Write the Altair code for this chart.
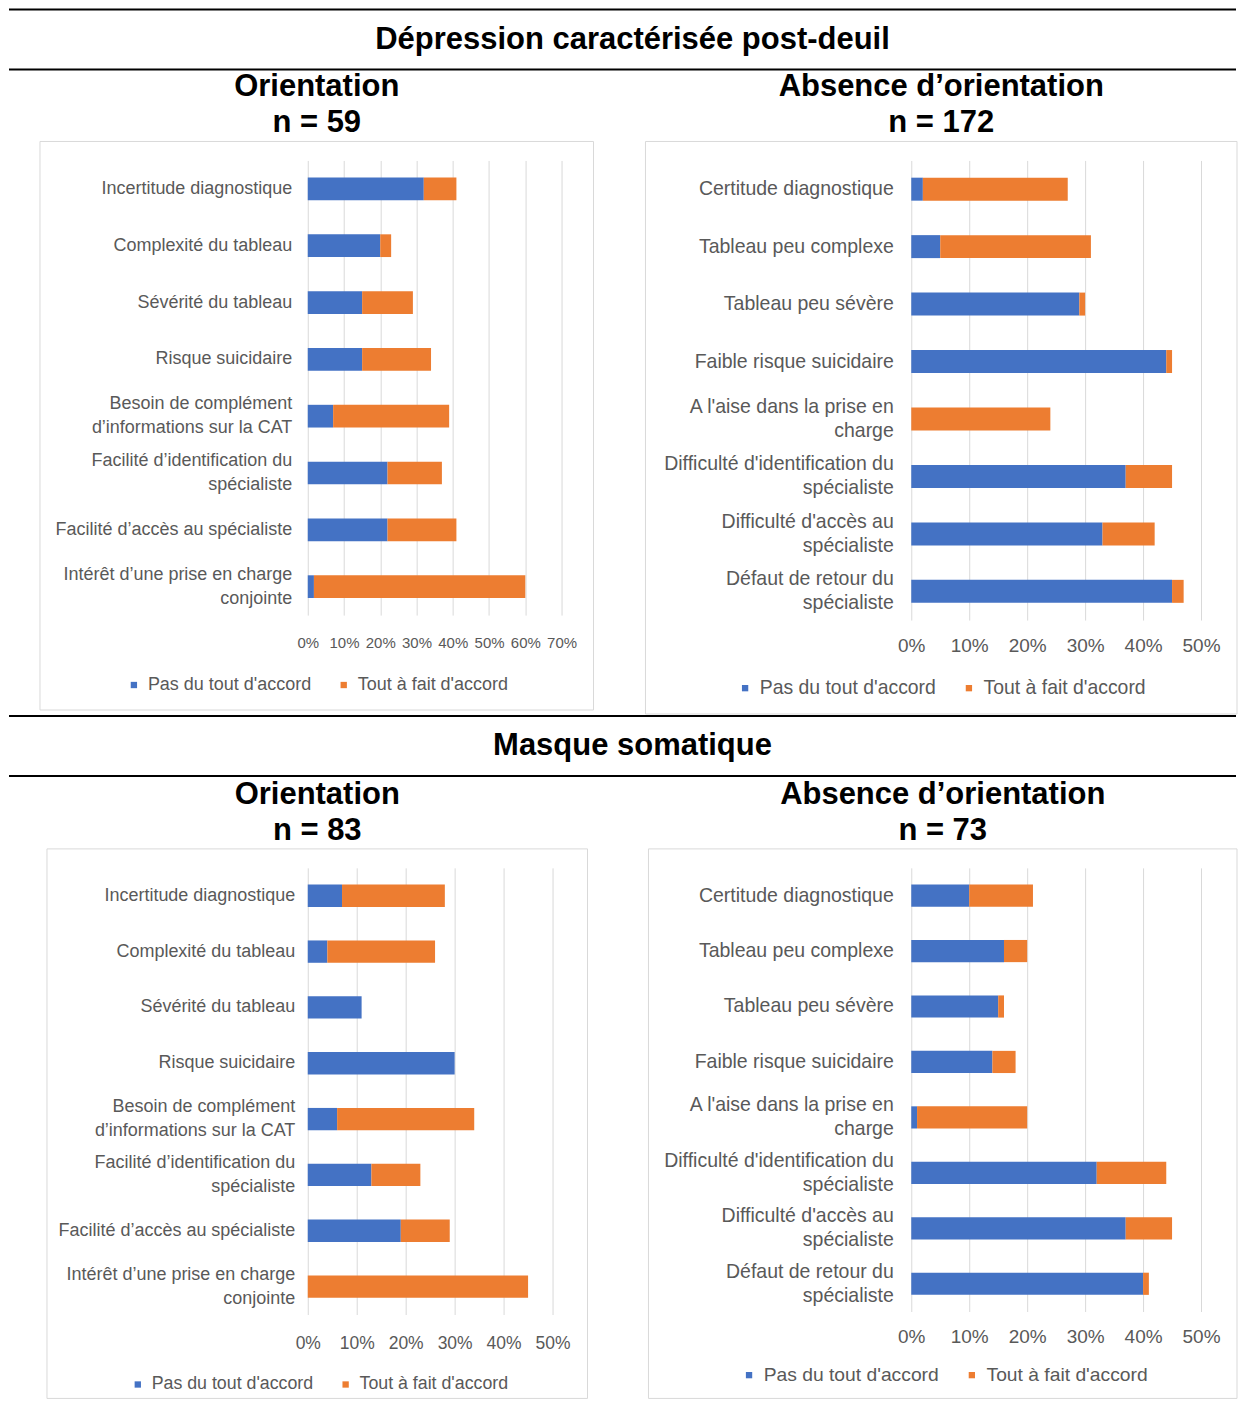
import altair as alt
import pandas as pd

FONT = "Liberation Sans"
GRAY = "#595959"
GRID = "#D9D9D9"
BOXC = "#D9D9D9"
SERIES = ["Pas du tout d'accord", "Tout à fait d'accord"]
COLORS = ["#4472C4", "#ED7D31"]

TITLE_DEP = "Dépression caractérisée post-deuil"
TITLE_SOM = "Masque somatique"

CATS_ORIENT = [
    "Incertitude diagnostique",
    "Complexité du tableau",
    "Sévérité du tableau",
    "Risque suicidaire",
    "Besoin de complément|d’informations sur la CAT",
    "Facilité d’identification du|spécialiste",
    "Facilité d’accès au spécialiste",
    "Intérêt d’une prise en charge|conjointe",
]
CATS_ABSENCE = [
    "Certitude diagnostique",
    "Tableau peu complexe",
    "Tableau peu sévère",
    "Faible risque suicidaire",
    "A l'aise dans la prise en|charge",
    "Difficulté d'identification du|spécialiste",
    "Difficulté d'accès au|spécialiste",
    "Défaut de retour du|spécialiste",
]

SUB_DEP_ORIENT = ["Orientation", "n = 59"]
SUB_DEP_ABS = ["Absence d’orientation", "n = 172"]
SUB_SOM_ORIENT = ["Orientation", "n = 83"]
SUB_SOM_ABS = ["Absence d’orientation", "n = 73"]

# values in %
DEP_ORIENT_PAS = [32, 20, 15, 15, 7, 22, 22, 1.7]
DEP_ORIENT_TOUT = [9, 3, 14, 19, 32, 15, 19, 58.3]
DEP_ABS_PAS = [2, 5, 29, 44, 0, 37, 33, 45]
DEP_ABS_TOUT = [25, 26, 1, 1, 24, 8, 9, 2]
SOM_ORIENT_PAS = [7, 4, 11, 30, 6, 13, 19, 0]
SOM_ORIENT_TOUT = [21, 22, 0, 0, 28, 10, 10, 45]
SOM_ABS_PAS = [10, 16, 15, 14, 1, 32, 37, 40]
SOM_ABS_TOUT = [11, 4, 1, 4, 19, 12, 8, 1]

# left extent of every block (plot origin sits this far right of the page edge)
LEFT = 300
RIGHT = 929


def one():
    return pd.DataFrame({"k": [0]})


def header(text):
    base = alt.Chart(pd.DataFrame({"t": [text]}))
    top = base.mark_rule(color="black", strokeWidth=2).encode(
        x=alt.value(-LEFT + 1), x2=alt.value(RIGHT), y=alt.value(0))
    bot = base.mark_rule(color="black", strokeWidth=2).encode(
        x=alt.value(-LEFT + 1), x2=alt.value(RIGHT), y=alt.value(60))
    txt = base.mark_text(fontSize=31, fontWeight="bold", font=FONT, color="black",
                         baseline="middle", align="center").encode(
        text="t:N", x=alt.value(325), y=alt.value(30))
    return alt.layer(top, bot, txt).properties(width=RIGHT, height=60)


def panel(cats, pas, tout, sub, xmax, w, h, box, lab_size, lab_pad, tick_size, tick_pad,
          leg_size, leg_x, leg_y, pin_x, pin_y):
    rows = []
    for i, c in enumerate(cats):
        rows.append({"cat": c, "serie": SERIES[0], "val": pas[i], "ord": 0})
        rows.append({"cat": c, "serie": SERIES[1], "val": tout[i], "ord": 1})
    df = pd.DataFrame(rows)

    bars = alt.Chart(df).mark_bar().encode(
        y=alt.Y("cat:N", sort=cats,
                scale=alt.Scale(paddingInner=0.6, paddingOuter=0.3),
                axis=alt.Axis(title=None, labelExpr="split(datum.value, '|')",
                              labelFontSize=lab_size, labelColor=GRAY, labelFont=FONT,
                              labelLineHeight=24, labelPadding=lab_pad, ticks=False,
                              labelOffset={"condition": {"test": "indexof(datum.value, '|') >= 0",
                                                         "value": -12}, "value": 0},
                              tickSize=0, domain=False, grid=False, labelLimit=400)),
        x=alt.X("val:Q", stack="zero",
                scale=alt.Scale(domain=[0, xmax], nice=False),
                axis=alt.Axis(title=None, values=list(range(0, xmax + 1, 10)),
                              labelExpr="datum.value + '%'", grid=True, gridColor=GRID,
                              gridWidth=1, ticks=False, tickSize=0, domain=False,
                              labelFontSize=tick_size, labelColor=GRAY, labelFont=FONT,
                              labelPadding=tick_pad, labelFlush=False, labelOverlap=False)),
        color=alt.Color("serie:N", scale=alt.Scale(domain=SERIES, range=COLORS),
                        legend=alt.Legend(orient="none", legendX=leg_x, legendY=leg_y,
                                          direction="horizontal", title=None,
                                          symbolType="square", symbolSize=40,
                                          symbolStrokeWidth=0, labelFontSize=leg_size,
                                          labelColor=GRAY, labelFont=FONT,
                                          columnPadding=23, labelOffset=5,
                                          labelLimit=400, padding=0)),
        order=alt.Order("ord:Q"),
    )

    rect = alt.Chart(one()).mark_rect(filled=False, stroke=BOXC, strokeWidth=1).encode(
        x=alt.value(box[0]), x2=alt.value(box[1]), y=alt.value(box[2]), y2=alt.value(box[3]))

    cx = (box[0] + box[1]) / 2
    subt = alt.Chart(one()).mark_text(text=sub, lineHeight=36, fontSize=31, fontWeight="bold",
                                      font=FONT, color="black", align="center",
                                      baseline="middle").encode(
        x=alt.value(cx), y=alt.value(-73))

    pin = alt.Chart(one()).mark_rule(strokeOpacity=0, strokeWidth=1).encode(
        x=alt.value(pin_x), x2=alt.value(pin_x + 1), y=alt.value(pin_y))

    return alt.layer(rect, bars, subt, pin).properties(width=w, height=h)


p1 = panel(CATS_ORIENT, DEP_ORIENT_PAS, DEP_ORIENT_TOUT, SUB_DEP_ORIENT, 70, 254, 455,
           (-268, 286, -19, 550), 18, 16, 15, 20, 18, -183, 516, -LEFT, -89.5)
p2 = panel(CATS_ABSENCE, DEP_ABS_PAS, DEP_ABS_TOUT, SUB_DEP_ABS, 50, 290, 460,
           (-266, 326, -19, 554), 19.5, 18, 19, 16, 19.4, -176, 518, 0, -89.5)
p3 = panel(CATS_ORIENT, SOM_ORIENT_PAS, SOM_ORIENT_TOUT, SUB_SOM_ORIENT, 50, 245, 447,
           (-261, 280, -19, 531), 18, 13, 17.5, 20, 17.8, -179, 508, -LEFT, -91)
p4 = panel(CATS_ABSENCE, SOM_ABS_PAS, SOM_ABS_TOUT, SUB_SOM_ABS, 50, 290, 444,
           (-263, 326, -19, 531), 19.5, 18, 19, 16, 19.3, -172, 498, 0, -91)

row1 = alt.hconcat(p1, p2, spacing=50).resolve_scale(color="independent").resolve_legend(color="independent")
row2 = alt.hconcat(p3, p4, spacing=59).resolve_scale(color="independent").resolve_legend(color="independent")

chart = alt.vconcat(header(TITLE_DEP), row1, header(TITLE_SOM), row2, spacing=0).resolve_scale(
    color="independent").resolve_legend(color="independent").properties(padding=0).configure_view(
    strokeWidth=0)

chart.save("out.html", embed_options={"renderer": "svg", "actions": False})
